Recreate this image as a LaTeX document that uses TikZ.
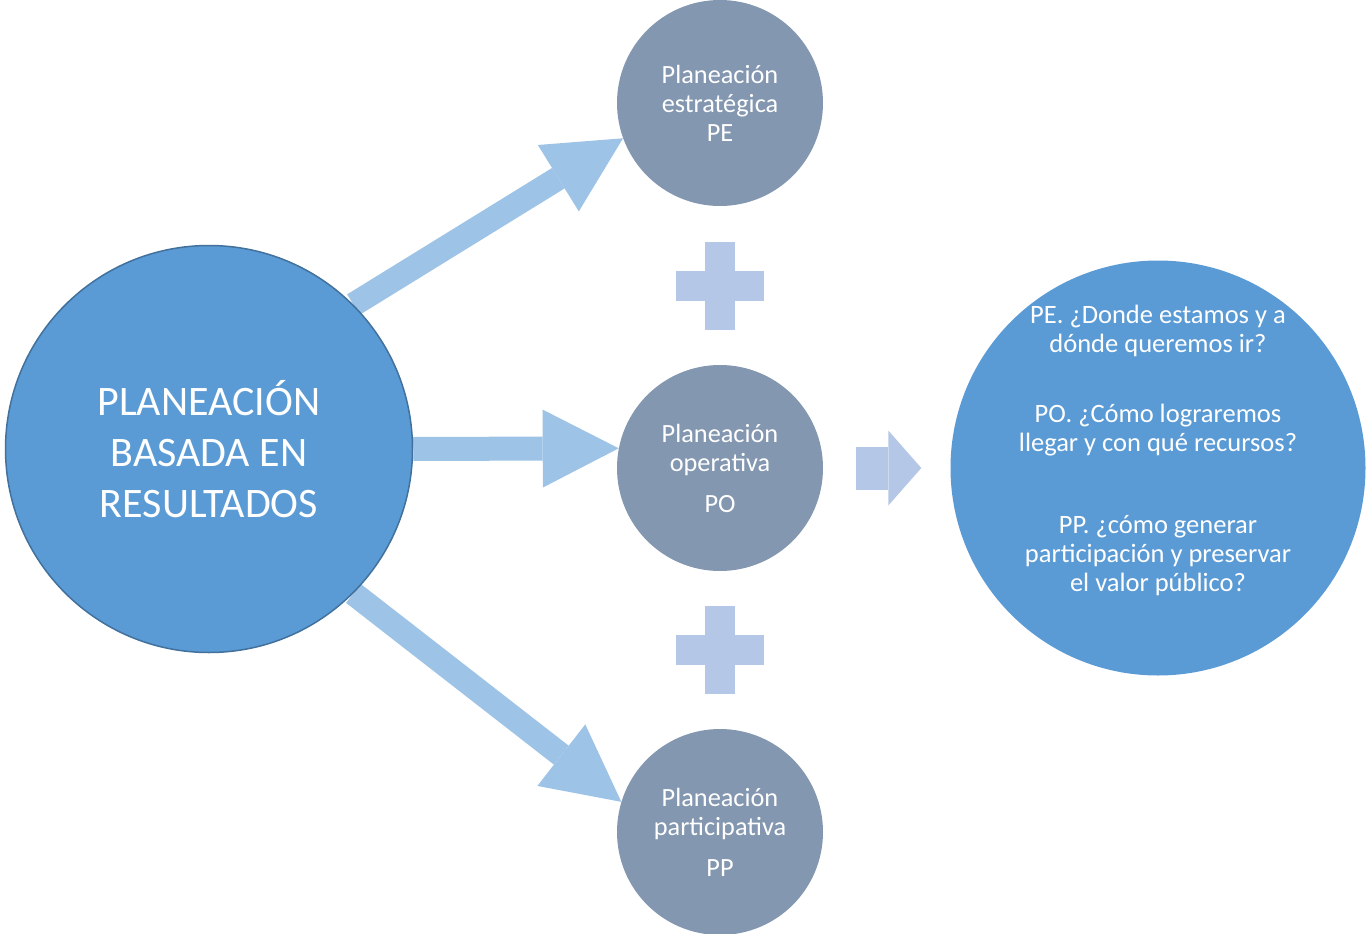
\documentclass[tikz,border=0pt]{standalone}
\usepackage{fontspec}
\setmainfont{Carlito}
\usetikzlibrary{arrows.meta,positioning,calc,backgrounds}
\definecolor{azul}{HTML}{5B9BD5}
\definecolor{azulborde}{HTML}{41719C}
\definecolor{gris}{HTML}{8497B0}
\definecolor{flecha}{HTML}{9DC3E6}
\definecolor{claro}{HTML}{B4C7E7}

\begin{document}
\begin{tikzpicture}[x=1pt,y=-1pt,
	grande/.style={circle,fill=azul,draw=azulborde,line width=1.5pt,minimum size=407pt,
		inner sep=0pt,text=white,align=center,font=\fontsize{42}{51}\selectfont},
	chico/.style={circle,fill=gris,minimum size=206pt,inner sep=0pt,text=white,
		align=center,font=\fontsize{26.3}{29}\selectfont},
	resp/.style={circle,fill=azul,minimum size=415pt,inner sep=0pt},
	texto/.style={text=white,align=center,font=\fontsize{26.5}{29}\selectfont},
	flechota/.style={draw=flecha,line width=24pt,
		-{Triangle[length=76pt,width=78pt,line width=0pt,fill=flecha]}},
	mas/.style={fill=claro}]
	\useasboundingbox (0,0) rectangle (1368,934);
	\node[grande] (pbr) at (209,449) {PLANEACIÓN\\BASADA EN\\RESULTADOS};
	\node[chico] (pe) at (720,103) {Planeación\\estratégica\\PE};
	\node[chico] (po) at (720,468) {Planeación\\operativa\\[12pt]PO};
	\node[chico] (pp) at (720,832) {Planeación\\participativa\\[12pt]PP};
	\node[resp] (res) at (1158,468) {};
	\node[texto] (restxt) at (1158,450) {PE. ¿Donde estamos y a\\dónde queremos ir?\\[41pt]
		PO. ¿Cómo lograremos\\llegar y con qué recursos?\\[53pt]
		PP. ¿cómo generar\\participación y preservar\\el valor público?};
	\coordinate (mas1) at (720,286);
	\coordinate (mas2) at (720,650);
	\fill[mas] ($(mas1)+(-44,-15)$) rectangle ($(mas1)+(44,15)$);
	\fill[mas] ($(mas1)+(-15,-44)$) rectangle ($(mas1)+(15,44)$);
	\fill[mas] ($(mas2)+(-44,-15)$) rectangle ($(mas2)+(44,15)$);
	\fill[mas] ($(mas2)+(-15,-44)$) rectangle ($(mas2)+(15,44)$);
	\draw[draw=claro,line width=43pt,-{Triangle[length=33pt,width=75pt,line width=0pt,fill=claro]}]
		($(po.east)+(33,0)$) -- ($(res.west)+(-29,0)$);
	\begin{pgfonlayer}{background}
		\draw[flechota] (pbr.45) -- (pe.200);
		\draw[flechota] (pbr.east) -- (po.169);
		\draw[flechota] (pbr.-45) -- (pp.163);
	\end{pgfonlayer}
\end{tikzpicture}
\end{document}
